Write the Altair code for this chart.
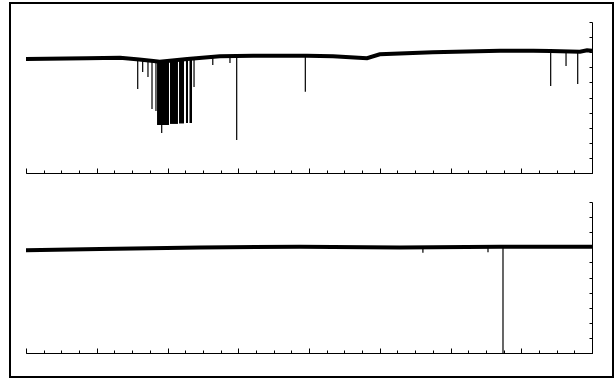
import altair as alt
import pandas as pd

# ---- Panel 1 (upper trace) ----
top_x = [0, 86, 133, 160, 180, 189, 228, 274, 321, 397, 434, 470, 482, 500, 575, 670, 717, 741, 783, 793, 800]
top_y = [7.55, 7.60, 7.64, 7.52, 7.42, 7.37, 7.55, 7.73, 7.77, 7.77, 7.73, 7.64, 7.60, 7.86, 7.99, 8.10, 8.10, 8.08, 8.03, 8.13, 8.10]

top_spike_x = [157.9, 164.9, 172.4, 178.1, 183.7, 191.8, 237.5, 264.0, 288.3, 297.8, 394.8, 741.6, 763.3, 779.8]
top_spike_low = [5.56, 6.69, 6.36, 4.24, 4.11, 2.65, 5.70, 7.15, 7.28, 2.19, 5.38, 5.76, 7.09, 5.89]
top_spike_high = [7.50, 7.48, 7.45, 7.43, 7.40, 7.38, 7.60, 7.68, 7.75, 7.75, 7.77, 8.08, 8.06, 8.04]

block_start = [185.2, 203.5, 216.3, 226.1, 231.1]
block_end = [202.1, 214.8, 223.3, 229.0, 234.6]
block_low = [3.18, 3.25, 3.28, 3.31, 3.31]
block_high = [7.38, 7.42, 7.48, 7.50, 7.52]

# ---- Panel 2 (lower trace) ----
bot_x = [0, 104.6, 245.9, 387, 528, 670, 800]
bot_y = [6.81, 6.88, 6.99, 7.03, 6.99, 7.03, 7.03]

bot_spike_x = [561, 653, 674.2]
bot_spike_low = [6.64, 6.68, 0.0]
bot_spike_high = [7.0, 7.0, 7.0]

minor_ticks = [i * 25 for i in range(33)]
major_ticks = [i * 100 for i in range(9)]
y_ticks = list(range(11))

W, H = 566, 151

xscale = alt.Scale(domain=[0, 800], nice=False, zero=False)
yscale = alt.Scale(domain=[0, 10], nice=False, zero=False)

axis_common = dict(labels=False, title=None, grid=False, domainColor="black",
                   tickColor="black", domainWidth=1, tickWidth=1)

y_axis = alt.Axis(orient="left", offset=-W, values=y_ticks, tickSize=3, **axis_common)


def panel(lx, ly, sx, slo, shi, blocks=None, border=False):
    line_df = pd.DataFrame({"x": lx, "y": ly})
    spike_df = pd.DataFrame({"x": sx, "lo": slo, "hi": shi})

    spikes = alt.Chart(spike_df).mark_rule(color="black", strokeWidth=1.2).encode(
        x=alt.X("x:Q", scale=xscale,
                axis=alt.Axis(orient="top", offset=-H, values=major_ticks, tickSize=5,
                              labels=False, title=None, grid=False, domain=False,
                              tickColor="black", tickWidth=1)),
        y=alt.Y("lo:Q", scale=yscale, axis=y_axis),
        y2="hi:Q",
    )
    line = alt.Chart(line_df).mark_line(color="black", strokeWidth=4).encode(
        x=alt.X("x:Q", scale=xscale,
                axis=alt.Axis(orient="top", offset=-H, values=minor_ticks, tickSize=3, **axis_common)),
        y=alt.Y("y:Q", scale=yscale, axis=y_axis),
    )
    layers = [spikes]
    if blocks is not None:
        bdf = pd.DataFrame({"x0": blocks[0], "x1": blocks[1], "lo": blocks[2], "hi": blocks[3]})
        rects = alt.Chart(bdf).mark_rect(color="black").encode(
            x=alt.X("x0:Q", scale=xscale, axis=None),
            x2="x1:Q",
            y=alt.Y("lo:Q", scale=yscale, axis=y_axis),
            y2="hi:Q",
        )
        layers.append(rects)
    layers.append(line)
    if border:
        frame = alt.Chart(pd.DataFrame({"a": [0]})).mark_rect(
            fillOpacity=0, stroke="black", strokeWidth=2
        ).encode(x=alt.value(-16), x2=alt.value(587), y=alt.value(-19), y2=alt.value(355))
        layers.append(frame)
    return alt.layer(*layers).resolve_axis(x="independent").properties(width=W, height=H)


p1 = panel(top_x, top_y, top_spike_x, top_spike_low, top_spike_high,
           blocks=(block_start, block_end, block_low, block_high), border=True)
p2 = panel(bot_x, bot_y, bot_spike_x, bot_spike_low, bot_spike_high)

chart = alt.vconcat(p1, p2, spacing=29, bounds="flush").properties(
    padding={"left": 9, "top": 2, "right": 2, "bottom": 3},
    background="white",
).configure_view(stroke=None)

chart.save("out.html", embed_options={"renderer": "svg", "actions": False})
